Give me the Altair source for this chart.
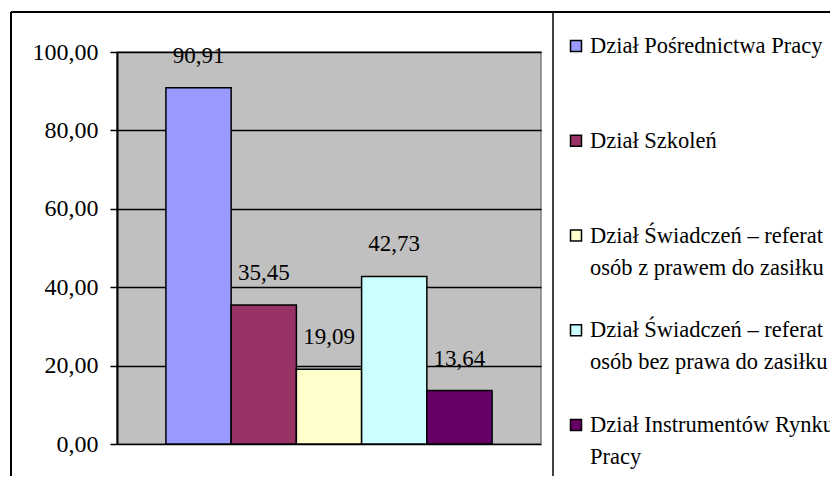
import altair as alt
import pandas as pd

departments = [
    "Dział Pośrednictwa Pracy",
    "Dział Szkoleń",
    "Dział Świadczeń – referat osób z prawem do zasiłku",
    "Dział Świadczeń – referat osób bez prawa do zasiłku",
    "Dział Instrumentów Rynku Pracy",
]
legend_line1 = [
    "Dział Pośrednictwa Pracy",
    "Dział Szkoleń",
    "Dział Świadczeń – referat",
    "Dział Świadczeń – referat",
    "Dział Instrumentów Rynku",
]
legend_line2 = ["", "", "osób z prawem do zasiłku", "osób bez prawa do zasiłku", "Pracy"]
values = [90.91, 35.45, 19.09, 42.73, 13.64]
value_labels = ["90,91", "35,45", "19,09", "42,73", "13,64"]
colors = ["#9999FF", "#993366", "#FFFFCC", "#CCFFFF", "#660066"]
y_ticks = [0, 20, 40, 60, 80, 100]

df = pd.DataFrame({
    "dept": departments,
    "value": values,
    "label": value_labels,
    "line1": legend_line1,
    "line2": legend_line2,
})

FONT = "Liberation Serif"

color_enc = alt.Color(
    "dept:N",
    sort=departments,
    scale=alt.Scale(domain=departments, range=colors),
    legend=None,
)

x_enc = alt.X(
    "dept:N",
    sort=departments,
    axis=None,
    scale=alt.Scale(paddingInner=0, paddingOuter=0.75),
)
y_scale = alt.Scale(domain=[0, 100], nice=False)

bars = alt.Chart(df).mark_bar(stroke="black", strokeWidth=1.5).encode(
    x=x_enc,
    y=alt.Y(
        "value:Q",
        scale=y_scale,
        axis=alt.Axis(
            values=y_ticks,
            labelExpr="replace(format(datum.value, '.2f'), '.', ',')",
            title=None,
            grid=True,
            gridColor="black",
            gridWidth=1.5,
            domainColor="black",
            domainWidth=2,
            tickColor="black",
            tickSize=7,
            tickWidth=1.5,
            labelFont=FONT,
            labelFontSize=24,
            labelColor="black",
            labelPadding=12,
        ),
    ),
    color=color_enc,
)

texts = alt.Chart(df).mark_text(
    dy=-32, baseline="middle", font=FONT, fontSize=23, color="black"
).encode(x=x_enc, y=alt.Y("value:Q", scale=y_scale), text="label:N")

plot = alt.layer(bars, texts)

# legend (drawn as marks, rows placed by a point scale)
leg_y = alt.Y(
    "dept:N",
    sort=departments,
    scale=alt.Scale(type="point", range=[-6, 373], padding=0),
    axis=None,
)
leg_base = alt.Chart(df)
leg_squares = leg_base.mark_square(
    size=121, stroke="black", strokeWidth=1.5, opacity=1
).encode(x=alt.value(459), y=leg_y, color=color_enc)
leg_text1 = leg_base.mark_text(
    align="left", baseline="middle", font=FONT, fontSize=22.5, color="black"
).encode(x=alt.value(473), y=leg_y, text="line1:N")
leg_text2 = leg_base.mark_text(
    align="left", baseline="middle", font=FONT, fontSize=22.5, color="black", dy=32
).encode(x=alt.value(473), y=leg_y, text="line2:N")
legend = alt.layer(leg_squares, leg_text1, leg_text2)

frame = pd.DataFrame({"k": [0]})
left_border = alt.Chart(frame).mark_rule(color="black", strokeWidth=2).encode(
    x=alt.value(-106), y=alt.value(-40), y2=alt.value(440)
)
top_border = alt.Chart(frame).mark_rule(color="black", strokeWidth=2).encode(
    x=alt.value(-106), x2=alt.value(720), y=alt.value(-40)
)
separator = alt.Chart(frame).mark_rule(color="black", strokeWidth=1.5).encode(
    x=alt.value(436), y=alt.value(-40), y2=alt.value(440)
)

chart = (
    alt.layer(plot, legend, left_border, top_border, separator)
    .resolve_scale(y="independent")
    .properties(
        width=424,
        height=392,
        autosize=alt.AutoSizeParams(type="none"),
        padding={"left": 109, "top": 44, "right": 289, "bottom": 32},
        background="white",
    )
    .configure_view(fill="#C0C0C0", stroke="#808080", strokeWidth=1.5)
)

chart.save("out.html", embed_options={"renderer": "svg", "actions": False})
